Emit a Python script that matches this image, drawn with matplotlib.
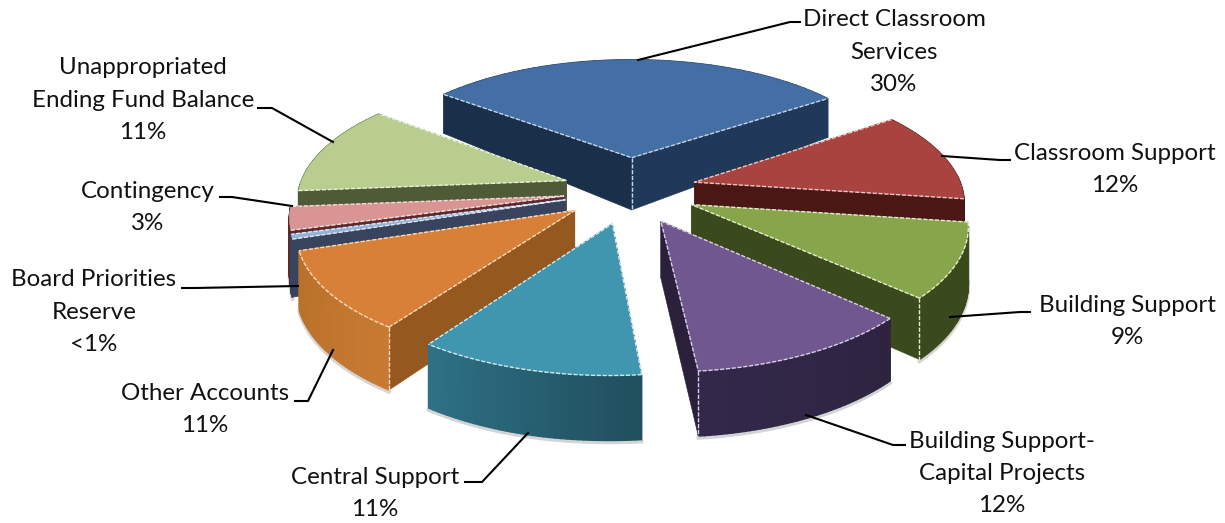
import numpy as np
import matplotlib
matplotlib.use("Agg")
import matplotlib.pyplot as plt
from matplotlib.colors import to_rgb

# share of the budget, clockwise from the blue slice
names = ["Direct Classroom\nServices", "Classroom Support", "Building Support",
         "Building Support-\nCapital Projects", "Central Support", "Other Accounts",
         "Board Priorities\nReserve", "Contingency",
         "Unappropriated\nEnding Fund Balance"]
pct_labels = ["30%", "12%", "9%", "12%", "11%", "11%", "<1%", "3%", "11%"]
values = [29.7, 11.9, 9.7, 11.5, 11.3, 10.3, 0.6, 3.0, 11.9]

top_col = ["#436fa4", "#a94340", "#87a64b", "#71578f", "#3f96ae", "#d98038", "#95b3d7", "#d89594", "#b9cd8e"]
rim_a = ["#1a2f4a", "#4a1714", "#3a4a1c", "#2e2440", "#204f5e", "#c87a32", "#38435e", "#5a2a2c", "#4f5a36"]
rim_b = ["#20395a", "#4a1714", "#3a4a1c", "#33284a", "#2e7186", "#b8702a", "#38435e", "#5a2a2c", "#4f5a36"]
face_col = ["#1a2f4a", "#4a1714", "#3a4a1c", "#2a203c", "#204f5e", "#95591f", "#38435e", "#5a2a2c", "#4f5a36"]
cut_r_col = ["#20395a", "#4a1714", "#3a4a1c", "#2a203c", "#204f5e", "#95591f", "#38435e", "#5a2a2c", "#4f5a36"]
dash_col = ["#c8d4e4", "#e8c8c4", "#e4ecd0", "#d8d0e4", "#d4e8ee", "#f6dcc0", "#e0e8f4", "#f0dcdc", "#e8f0d8"]
# which corner of each slice carries a vertical highlight
corner_mark = ["apex", None, "end", "end", None, "start", None, None, None]

# label anchor (centre x, first line y) and leader line points
label_xy = [(894, 20), (1115, 153), (1127, 305), (1002, 441), (375, 477), (205, 393), (94, 280), (148, 191), (143, 68)]
leaders = [[(638, 60), (790, 22), (800, 22)],
           [(942, 156), (1000, 160), (1010, 160)],
           [(950, 317), (1020, 312), (1030, 312)],
           [(806, 415), (893, 445), (905, 445)],
           [(528, 433), (482, 482), (465, 482)],
           [(333, 350), (308, 401), (295, 401)],
           [(298, 286), (195, 288), (182, 288)],
           [(292, 206), (232, 197), (220, 197)],
           [(333, 142), (272, 108), (258, 108)]]

cx, cy = 630, 190
A, B, k = 268, 120, 0.14
explode_u, explode_v = 0.25, 0.28
start = -52.0


def project(u, v, down=0.0):
    w = 1 + k * v
    depth = np.interp(v, [-1.25, 0.25, 0.84], [65, 53, 39])
    return cx + A * u / w, cy - B * v / w + depth * down


def mix(c1, c2, t):
    c1, c2 = np.array(to_rgb(c1)), np.array(to_rgb(c2))
    return tuple(c1 + (c2 - c1) * t)


fig = plt.figure(figsize=(12.25, 5.23), dpi=100)
ax = fig.add_axes([0, 0, 1, 1])
ax.set_xlim(0, 1225)
ax.set_ylim(523, 0)
ax.axis("off")

vals = np.array(values)
edges = start + np.concatenate([[0], np.cumsum(vals)]) * 360 / vals.sum()
mids = (edges[:-1] + edges[1:]) / 2

# far slices first so the near ones cover them
order = list(np.argsort(-np.cos(np.radians(mids))))
for i in order:
    off_u = explode_u * np.sin(np.radians(mids[i]))
    off_v = explode_v * np.cos(np.radians(mids[i]))
    th = np.radians(np.linspace(edges[i], edges[i + 1], 41))
    u = off_u + np.sin(th)
    v = off_v + np.cos(th)
    ax0, ay0 = project(off_u, off_v)
    bx0, by0 = project(off_u, off_v, 1)
    tx, ty = project(u, v)
    bx, by = project(u, v, 1)
    z = 2 + 3 * order.index(i)

    # soft shadow under the rim
    if np.cos(np.radians(mids[i])) < 0:
        ax.plot(bx, by + 2, color="#b8b8b8", lw=2.5, alpha=0.6, zorder=z - 1)

    def draw_rim():
        # cut along the arc so it can shade across
        for j in range(len(th) - 1):
            c = mix(rim_a[i], rim_b[i], j / (len(th) - 2))
            ax.fill([tx[j], tx[j + 1], bx[j + 1], bx[j]], [ty[j], ty[j + 1], by[j + 1], by[j]],
                    color=c, lw=1.0, zorder=z)

    def draw_cuts():
        ax.fill([ax0, tx[0], bx[0], bx0], [ay0, ty[0], by[0], by0], color=face_col[i], lw=0.4, zorder=z)
        ax.fill([ax0, tx[-1], bx[-1], bx0], [ay0, ty[-1], by[-1], by0], color=cut_r_col[i], lw=0.4, zorder=z)

    if np.cos(np.radians(mids[i])) < 0:
        draw_cuts()
        draw_rim()
    else:
        draw_rim()
        draw_cuts()

    # top
    ax.fill(np.r_[ax0, tx], np.r_[ay0, ty], color=top_col[i], lw=0.4, zorder=z + 1)
    # dashed highlights
    dash = dict(color=dash_col[i], lw=1.0, ls=(0, (3, 1.2)), zorder=z + 2)
    ax.plot(np.r_[tx[0], ax0, tx[-1]], np.r_[ty[0], ay0, ty[-1]], **dash)
    if np.cos(np.radians(mids[i])) < -0.3:
        ax.plot(tx, ty, **dash)
    if corner_mark[i] == "apex":
        ax.plot([ax0, bx0], [ay0, by0], **dash)
    elif corner_mark[i] == "start":
        ax.plot([tx[0], bx[0]], [ty[0], by[0]], **dash)
    elif corner_mark[i] == "end":
        ax.plot([tx[-1], bx[-1]], [ty[-1], by[-1]], **dash)

for i in range(len(names)):
    pts = np.array(leaders[i])
    ax.plot(pts[:, 0], pts[:, 1], color="black", lw=1.5, zorder=60)
    lines = names[i].split("\n") + [pct_labels[i]]
    x0, y0 = label_xy[i]
    for n, line in enumerate(lines):
        ax.text(x0, y0 + n * 32.2, line, ha="center", va="center", family="Lato", fontsize=17.4,
                color="#111111", zorder=70)

fig.savefig("out.png", dpi=100, facecolor="white")
